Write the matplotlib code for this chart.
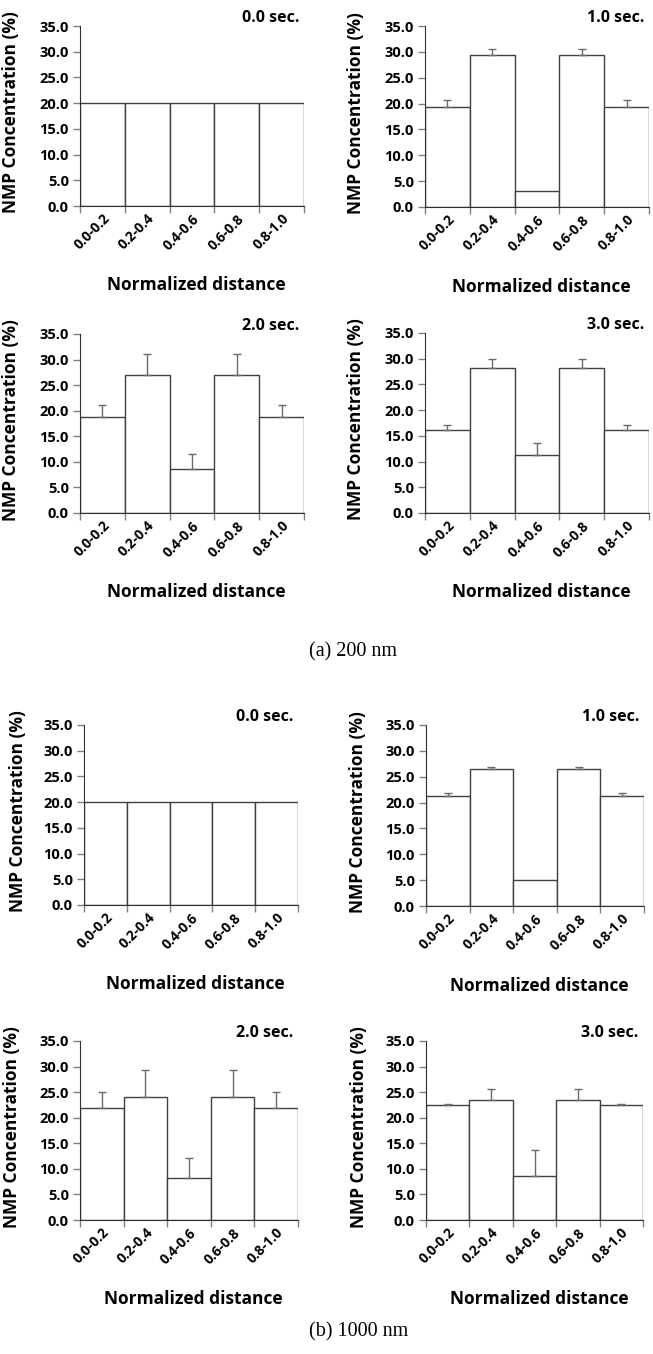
import matplotlib.pyplot as plt

# ===== datos =====
categorias = ["0.0-0.2", "0.2-0.4", "0.4-0.6", "0.6-0.8", "0.8-1.0"]
tiempos = ["0.0 sec.", "1.0 sec.", "2.0 sec.", "3.0 sec."]

# (a) 200 nm
conc_200 = [
    [20.0, 20.0, 20.0, 20.0, 20.0],
    [19.3, 29.4, 3.1, 29.4, 19.3],
    [18.7, 27.0, 8.6, 27.0, 18.7],
    [16.1, 28.1, 11.3, 28.1, 16.1],
]
err_200 = [
    [0.0, 0.0, 0.0, 0.0, 0.0],
    [1.3, 1.2, 0.0, 1.2, 1.3],
    [2.5, 4.0, 2.9, 4.0, 2.5],
    [1.1, 1.9, 2.4, 1.9, 1.1],
]

# (b) 1000 nm
conc_1000 = [
    [20.0, 20.0, 20.0, 20.0, 20.0],
    [21.2, 26.4, 5.0, 26.4, 21.2],
    [21.9, 24.0, 8.3, 24.0, 21.9],
    [22.4, 23.4, 8.6, 23.4, 22.4],
]
err_1000 = [
    [0.0, 0.0, 0.0, 0.0, 0.0],
    [0.6, 0.5, 0.0, 0.5, 0.6],
    [3.2, 5.3, 3.9, 5.3, 3.2],
    [0.3, 2.2, 5.1, 2.2, 0.3],
]

yticks = [0, 5, 10, 15, 20, 25, 30, 35]

W, H = 653, 1354
# caja de cada eje en pixeles: izq, der, arriba, abajo
cajas = [
    (80, 304, 26, 206), (425, 649, 26, 207),
    (80, 304, 334, 513), (425, 649, 333, 513),
    (84, 298, 725, 905), (426, 644, 725, 906),
    (80, 298, 1041, 1220), (426, 643, 1041, 1220),
]

FONT = "Open Sans"
fig = plt.figure(figsize=(W / 100, H / 100), dpi=100)

paneles = list(zip(conc_200, err_200)) + list(zip(conc_1000, err_1000))
for k, ((vals, errs), (l, r, t, b)) in enumerate(zip(paneles, cajas)):
    ax = fig.add_axes([l / W, 1 - b / H, (r - l) / W, (b - t) / H])
    x = list(range(len(categorias)))
    ax.bar(x, vals, width=1.0, color="white", edgecolor="#404040", lw=1.0, zorder=2)
    # solo barras de error no nulas
    xe = [i for i in x if errs[i] > 0]
    if xe:
        ax.errorbar(xe, [vals[i] for i in xe],
                    yerr=[[0] * len(xe), [errs[i] for i in xe]], fmt="none",
                    ecolor="#6a6a6a", elinewidth=1.0, capsize=3, capthick=1.0,
                    zorder=3)
    ax.set_xlim(-0.5, len(categorias) - 0.5)
    ax.set_ylim(0, 35)
    ax.set_yticks(yticks)
    ax.set_yticklabels([f"{v:.1f}" for v in yticks], fontfamily=FONT,
                       fontweight="bold", fontsize=10.5)
    # ticks en los limites de categoria, etiquetas en el centro
    ax.set_xticks([i - 0.5 for i in range(len(categorias) + 1)])
    ax.set_xticklabels([])
    ax.set_xticks(x, minor=True)
    ax.set_xticklabels(categorias, minor=True, rotation=45, ha="right",
                       rotation_mode="anchor", fontfamily=FONT,
                       fontweight="bold", fontsize=10)
    ax.tick_params(axis="x", which="minor", length=0, pad=4)
    ax.tick_params(axis="x", which="major", length=5, color="#808080", width=1)
    ax.tick_params(axis="y", length=5, color="#808080", width=1, pad=3)
    for s in ["top", "right"]:
        ax.spines[s].set_visible(False)
    ax.spines["left"].set_color("#303030")
    ax.spines["bottom"].set_color("#303030")
    ax.text(0.98, 1.045, tiempos[k % 4], transform=ax.transAxes, ha="right",
            va="center", fontfamily=FONT, fontweight="bold", fontsize=11.5)
    ax.text(-0.31, 0.52, "NMP Concentration (%)", transform=ax.transAxes,
            rotation=90, ha="center", va="center", fontfamily=FONT,
            fontweight="bold", fontsize=12.5)
    ax.text(0.52, -0.44, "Normalized distance", transform=ax.transAxes,
            ha="center", va="center", fontfamily=FONT, fontweight="bold",
            fontsize=12.5)

fig.text(353 / W, 1 - 652 / H, "(a) 200 nm", ha="center", va="center",
         fontfamily="Liberation Serif", fontsize=14.5)
fig.text(359 / W, 1 - 1332 / H, "(b) 1000 nm", ha="center", va="center",
         fontfamily="Liberation Serif", fontsize=14.5)

fig.savefig("out.png", dpi=100)
